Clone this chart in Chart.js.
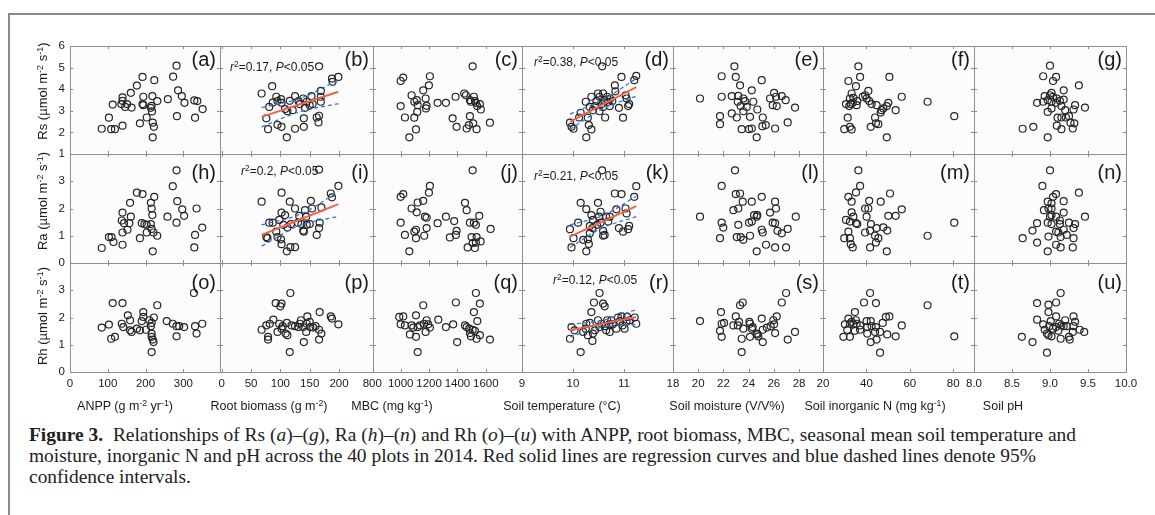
<!DOCTYPE html>
<html>
<head>
<meta charset="utf-8">
<script src="https://cdn.jsdelivr.net/npm/chart.js@4.4.1/dist/chart.umd.min.js"></script>
<style>
    body { margin: 0; width: 1155px; height: 515px; background: #fff; position: relative; overflow: hidden;
           font-family: "Liberation Sans", Arial, sans-serif; color: #1a1a1a; }
    #frame { position: absolute; left: 8px; top: 13px; width: 1170px; height: 520px;
             border-left: 2px solid #8a8a8a; border-top: 2px solid #8a8a8a; }
    canvas { position: absolute; }
    .lbl { position: absolute; font-size: 20px; line-height: 20px; white-space: nowrap; transform: translateX(-100%); }
    .ann { position: absolute; font-size: 12px; line-height: 13px; white-space: nowrap; }
    .xt { position: absolute; font-size: 12.5px; line-height: 14px; white-space: nowrap; transform: translateX(-50%); }
    .yt { position: absolute; font-size: 13px; line-height: 14px; white-space: nowrap; transform: translate(-50%, -50%) rotate(-90deg); }
    sup { font-size: 70%; line-height: 0; vertical-align: 0.45em; }
    #cap { position: absolute; left: 29px; top: 424px; font-family: "Liberation Serif", "Times New Roman", serif;
           font-size: 17.5px; line-height: 21px; color: #222; white-space: nowrap; }
</style>
</head>
<body>
<div id="frame"></div>
<div id="cap">
    <span id="capLine1"><b>Figure 3.</b>&nbsp; Relationships of Rs (<i>a</i>)–(<i>g</i>), Ra (<i>h</i>)–(<i>n</i>) and Rh (<i>o</i>)–(<i>u</i>) with ANPP, root biomass, MBC, seasonal mean soil temperature and</span><br>
    moisture, inorganic N and pH across the 40 plots in 2014. Red solid lines are regression curves and blue dashed lines denote 95%<br>
    confidence intervals.
</div>
<script>
// axis setup per column (x) and per row (y)
const xTitles = ['ANPP (g m<sup>-2</sup> yr<sup>-1</sup>)', 'Root biomass (g m<sup>-2</sup>)', 'MBC (mg kg<sup>-1</sup>)',
    'Soil temperature (°C)', 'Soil moisture (V/V%)', 'Soil inorganic N (mg kg<sup>-1</sup>)', 'Soil pH'];
const yTitles = ['Rs (µmol m<sup>-2</sup> s<sup>-1</sup>)', 'Ra (µmol m<sup>-2</sup> s<sup>-1</sup>)', 'Rh (µmol m<sup>-2</sup> s<sup>-1</sup>)'];
const xMin = [0, -3, 805, 9, 18, 20, 8];
const xMax = [397, 258, 1855, 11.96, 29.9, 89.6, 10];
const xTicks = [[0, 100, 200, 300], [0, 50, 100, 150, 200], [800, 1000, 1200, 1400, 1600], [9, 10, 11],
    [18, 20, 22, 24, 26, 28], [20, 40, 60, 80], [8, 8.5, 9, 9.5, 10]];
const yMin = [1, 0, 0];
const yMax = [6, 4, 4];
const yTicks = [[1, 2, 3, 4, 5, 6], [0, 1, 2, 3], [0, 1, 2, 3]];
const panelLetters = 'abcdefghijklmnopqrstu';

// Rs (a)-(g)
const rsAnpp = [[84,2.17],[103,2.68],[109,2.15],[119,2.15],[113,3.29],[139,2.31],[139,3.62],[139,3.46],[136,3.31],[146,3.18],[161,3.83],[151,3.31],[163,3.15],[177,4.17],[192,4.57],[185,2.42],[194,3.65],[192,3.31],[203,2.69],[214,3.14],[218,3.68],[216,3.23],[217,2.97],[219,2.45],[222,2.26],[223,4.42],[231,3.45],[219,1.77],[259,3.54],[273,4.58],[282,5.09],[286,3.95],[296,3.68],[283,2.75],[303,3.37],[329,3.48],[337,3.45],[331,2.68],[351,3.08],[194,3.26]];
const rsRoot = [[68,3.8],[76,2.65],[79,2.15],[81,3.18],[87,3.38],[86,4.14],[93,3.65],[95,3.45],[101,3.54],[102,3.37],[95,2.35],[102,2.26],[108,3.08],[112,2.98],[111,1.77],[116,3.46],[125,3.68],[125,2.17],[131,3.45],[133,3.31],[139,3.57],[140,2.65],[140,2.26],[142,3.14],[145,3.42],[150,3.26],[153,3.68],[155,3.31],[162,2.69],[165,2.46],[166,2.77],[166,5.06],[169,3.65],[169,3.42],[188,4.49],[189,4.34],[199,4.57],[169,3.92],[121,3.03]];
const rsMbc = [[1000,4.38],[1018,4.54],[1000,3.22],[1030,2.69],[1061,1.77],[1077,3.72],[1096,2.68],[1108,2.14],[1113,3.49],[1117,2.95],[1120,3.26],[1159,3.95],[1176,3.57],[1178,3.11],[1183,3.23],[1199,4.18],[1206,4.6],[1260,3.37],[1319,3.37],[1366,2.65],[1387,3.65],[1394,2.26],[1448,3.8],[1460,3.72],[1465,2.18],[1481,2.34],[1488,2.75],[1495,3.42],[1507,5.06],[1516,3.65],[1523,3.45],[1511,2.42],[1530,3.37],[1535,2.15],[1539,3.22],[1558,3.31],[1565,3.06],[1629,2.45],[1096,3.42],[1488,3.49]];
const rsTemp = [[9.94,2.45],[9.97,2.26],[10.01,2.17],[10.15,2.91],[10.26,1.77],[10.25,3.42],[10.29,2.68],[10.31,2.34],[10.36,2.14],[10.36,3.65],[10.39,3.03],[10.43,3.22],[10.46,3.45],[10.49,3.8],[10.52,3.65],[10.56,3.31],[10.57,5.06],[10.59,3.18],[10.61,3.49],[10.63,2.69],[10.67,3.65],[10.69,3.42],[10.73,3.57],[10.77,3.45],[10.82,4.18],[10.83,3.9],[10.9,3.14],[10.95,4.57],[10.98,2.68],[11.03,3.72],[11.05,3.57],[11.08,3.22],[11.1,3.31],[11.2,4.42],[11.24,4.62],[10.52,2.98],[10.72,3.22],[10.33,3.18],[10.12,2.69],[10.59,3.8]];
const rsMoist = [[20.14,3.57],[21.73,2.38],[21.73,2.75],[21.86,3.65],[21.86,4.6],[22.66,3.68],[22.87,5.06],[22.98,4.57],[23.06,2.69],[23.14,3.42],[23.18,3.69],[23.32,4.18],[23.37,3.22],[23.45,2.15],[23.58,2.98],[23.71,3.45],[24.03,2.15],[24.11,2.72],[24.25,3.95],[24.37,3.42],[24.69,3.06],[25.04,4.42],[25.12,2.69],[25.09,2.29],[25.36,2.34],[24.25,2.18],[24.64,1.77],[26.1,2.18],[26.02,3.83],[25.7,3.57],[26.17,3.65],[25.91,3.26],[26.23,3.22],[26.63,3.68],[26.94,3.49],[27.1,2.46],[27.68,3.15],[23.85,3.18],[23.58,3.57],[22.66,2.88]];
const rsN = [[36.3,5.06],[31.7,4.38],[37.1,4.57],[35.2,4.14],[33.2,3.8],[32.4,3.57],[34,3.6],[30.6,3.31],[32.1,3.22],[33.7,3.37],[35.5,3.26],[31.4,2.68],[29.8,2.15],[32.4,2.26],[33.2,2.14],[39.4,3.72],[40.9,3.92],[40.1,3.57],[41.3,3.45],[42.4,3.31],[44.7,3.26],[44,2.69],[44.4,2.42],[45.5,2.38],[42,2.26],[47,3.03],[47.8,3.11],[49.4,3.22],[50.1,3.37],[50.6,4.57],[49.4,1.77],[53.5,3.03],[56.3,3.65],[68.2,3.42],[80.5,2.75],[35.8,3.45],[38.3,3.65],[46.6,2.92],[32.8,3.31]];
const rsPh = [[9.0,5.09],[8.91,4.6],[9.08,4.57],[9.04,4.38],[9.38,4.18],[9.18,3.95],[9.02,3.83],[9.0,3.72],[8.93,3.68],[8.97,3.49],[9.04,3.65],[9.09,3.57],[9.13,3.46],[9.18,3.52],[8.83,3.37],[8.91,3.42],[9.02,3.42],[9.08,3.37],[9.15,3.22],[9.02,3.11],[8.97,2.95],[9.33,3.26],[9.31,3.06],[9.46,3.15],[9.1,2.68],[9.15,2.69],[9.25,2.75],[9.21,2.69],[9.27,2.45],[9.32,2.42],[9.3,2.18],[9.09,2.31],[9.15,2.15],[8.64,2.17],[8.78,2.26],[8.97,1.77],[9.2,3.03]];

// Ra (h)-(n)
const raAnpp = [[84,0.55],[103,0.95],[110,0.95],[115,0.77],[139,0.67],[137,1.56],[139,1.85],[143,1.46],[139,1.12],[152,1.22],[161,1.7],[159,2.21],[157,1.46],[177,2.58],[185,0.91],[192,2.53],[190,1.46],[197,1.43],[203,1.12],[214,1.43],[214,2.21],[216,2.0],[218,1.76],[223,2.43],[216,1.25],[221,1.12],[219,0.43],[231,1.0],[258,1.7],[272,2.82],[282,3.4],[284,2.27],[282,1.48],[297,1.97],[302,1.73],[335,2.0],[331,1.03],[329,0.57],[350,1.3],[203,1.4]];
const raRoot = [[68,2.25],[76,0.95],[78,0.91],[81,1.48],[87,1.48],[93,1.15],[95,0.95],[98,1.58],[102,2.58],[102,1.85],[101,0.87],[102,0.69],[108,1.76],[111,0.43],[112,1.3],[116,2.25],[117,0.58],[125,0.58],[125,2.0],[132,1.73],[136,1.43],[139,1.19],[140,1.15],[142,1.94],[144,1.7],[145,1.4],[150,1.43],[152,2.28],[154,2.0],[162,1.03],[166,3.43],[166,1.28],[167,1.48],[170,2.04],[186,2.55],[188,2.41],[199,2.83],[118,1.43],[130,1.48],[105,1.4]];
const raMbc = [[1000,2.43],[1018,2.53],[1000,1.48],[1030,1.03],[1061,0.43],[1077,2.0],[1096,1.15],[1108,0.91],[1113,1.86],[1120,2.22],[1108,1.22],[1159,2.28],[1171,1.7],[1183,1.66],[1183,1.28],[1166,1.0],[1199,2.58],[1206,2.83],[1260,1.46],[1319,1.7],[1347,0.94],[1377,1.54],[1394,1.18],[1389,1.03],[1453,2.21],[1465,1.94],[1488,1.48],[1500,0.95],[1507,3.4],[1516,1.48],[1530,1.4],[1535,0.95],[1530,0.75],[1554,1.73],[1563,0.79],[1507,0.73],[1472,0.57],[1523,0.55],[1634,1.25]];
const raTemp = [[9.94,1.24],[9.97,0.57],[10.01,0.91],[10.1,1.48],[10.15,2.21],[10.26,1.98],[10.29,0.87],[10.31,0.7],[10.26,0.43],[10.33,1.36],[10.38,1.28],[10.36,1.76],[10.39,1.58],[10.49,2.21],[10.51,1.7],[10.54,1.48],[10.54,1.88],[10.57,3.4],[10.59,1.18],[10.59,1.0],[10.62,1.03],[10.65,1.7],[10.69,1.52],[10.72,1.7],[10.82,2.55],[10.85,1.97],[10.9,1.28],[10.95,2.53],[10.98,1.15],[11.03,2.0],[11.05,1.82],[11.08,1.24],[11.1,1.36],[11.2,2.43],[11.24,2.82],[10.47,1.4],[10.33,1.09],[10.2,0.85]];
const raMoist = [[20.14,1.7],[21.73,0.91],[21.86,1.48],[21.99,1.3],[21.86,2.83],[22.92,3.4],[22.98,2.53],[23.32,2.55],[23.53,2.25],[22.79,1.94],[23.18,2.0],[23.18,1.4],[23.06,0.95],[23.37,0.95],[23.58,0.85],[24.03,1.48],[24.11,1.0],[24.25,2.25],[24.64,1.7],[24.64,0.43],[25.04,2.43],[24.43,1.76],[24.69,1.76],[24.25,1.52],[25.04,1.22],[25.12,1.12],[25.38,0.67],[26.1,2.25],[26.17,2.0],[25.7,1.85],[25.91,1.48],[26.1,1.46],[26.29,1.18],[26.63,1.09],[27.1,1.25],[26.1,0.57],[26.97,0.57],[27.74,1.7]];
const raN = [[36.3,3.4],[37.1,2.83],[35.2,2.59],[31.7,2.43],[33.2,2.25],[50.9,2.55],[46.6,2.25],[41.3,2.28],[39.4,2.0],[40.9,2.0],[33.2,1.86],[34.0,1.7],[30.6,1.58],[32.4,1.52],[35.2,1.46],[35.8,1.43],[40.1,1.7],[42.1,1.43],[41.7,1.19],[39.4,1.12],[44.7,1.28],[47.8,1.31],[49.6,1.19],[44,1.0],[45.5,0.91],[44.4,0.75],[41.7,0.57],[49.4,0.43],[31.7,1.15],[29.8,0.91],[32.4,0.91],[32.8,0.69],[33.7,0.57],[50.1,1.73],[53.5,1.73],[56.3,1.97],[68.2,1.0],[80.5,1.48]];
const raPh = [[9.0,3.4],[8.9,2.83],[9.08,2.53],[9.04,2.43],[9.38,2.58],[8.97,2.25],[9.18,2.27],[9.02,2.19],[8.98,2.0],[8.92,1.94],[9.02,2.0],[9.18,1.85],[9.02,1.76],[9.0,1.7],[9.08,1.7],[9.13,1.56],[9.46,1.7],[8.83,1.46],[8.97,1.48],[9.02,1.43],[9.13,1.43],[9.25,1.48],[9.33,1.43],[9.31,1.28],[8.77,1.19],[9.08,1.15],[9.11,1.12],[9.22,1.03],[9.14,0.95],[8.98,0.97],[9.31,0.91],[8.64,0.91],[8.83,0.75],[9.08,0.67],[9.14,0.57],[9.3,0.57],[8.97,0.43],[9.18,1.22]];

// Rh (o)-(u)
const rhAnpp = [[84,1.63],[103,1.74],[109,1.22],[119,1.29],[113,2.53],[139,2.53],[137,1.77],[141,1.65],[153,2.08],[159,1.9],[159,1.53],[163,1.47],[177,1.59],[185,1.53],[190,1.87],[194,2.02],[194,2.2],[201,1.55],[214,1.68],[216,1.8],[222,2.0],[216,1.41],[216,1.29],[219,1.19],[221,1.1],[216,0.73],[231,2.45],[256,1.87],[272,1.77],[282,1.68],[282,1.31],[289,1.68],[302,1.65],[328,2.9],[331,1.68],[335,1.41],[350,1.77],[210,1.9]];
const rhRoot = [[68,1.55],[76,1.71],[79,1.29],[79,1.19],[82,1.77],[88,1.92],[92,2.53],[102,2.51],[100,2.41],[95,1.47],[98,1.77],[102,1.59],[104,1.68],[111,1.8],[112,1.35],[109,1.41],[117,2.9],[116,0.73],[125,1.68],[131,1.65],[133,1.77],[135,1.9],[140,1.1],[139,1.65],[144,1.47],[145,1.77],[146,2.04],[150,1.84],[151,1.65],[160,1.68],[166,1.19],[167,2.2],[170,1.41],[166,1.55],[186,2.04],[188,1.96],[199,1.75],[119,1.71],[156,1.63]];
const rhMbc = [[990,2.02],[1018,2.04],[1000,1.75],[1030,1.71],[1065,1.38],[1077,1.71],[1089,1.63],[1108,2.08],[1108,1.29],[1120,0.73],[1120,1.65],[1159,2.45],[1164,1.77],[1183,1.9],[1194,1.75],[1176,1.47],[1206,1.63],[1265,1.92],[1319,1.65],[1370,1.75],[1389,2.55],[1398,1.1],[1453,1.71],[1465,1.65],[1488,1.43],[1495,1.31],[1507,1.55],[1516,2.2],[1530,2.9],[1540,1.87],[1558,2.51],[1535,1.22],[1558,1.35],[1629,1.19],[1483,1.59],[1523,1.51],[1136,1.71]];
const rhTemp = [[9.94,1.22],[9.97,1.65],[10.03,1.53],[10.15,0.73],[10.25,1.59],[10.26,1.77],[10.29,1.35],[10.33,1.8],[10.38,1.14],[10.39,1.41],[10.41,2.55],[10.36,2.2],[10.49,1.9],[10.52,2.9],[10.52,1.65],[10.56,1.77],[10.59,2.51],[10.62,2.41],[10.62,1.68],[10.67,1.9],[10.71,1.75],[10.72,1.47],[10.75,1.9],[10.78,1.75],[10.85,1.59],[10.88,2.0],[10.92,1.87],[10.95,2.04],[10.97,1.71],[11.01,1.59],[11.05,1.84],[11.06,2.02],[11.11,1.9],[11.21,2.0],[11.24,1.77],[10.2,1.47],[10.43,1.53],[10.65,1.53]];
const rhMoist = [[20.14,1.87],[21.73,1.51],[21.81,2.2],[21.86,1.29],[21.86,1.77],[22.05,1.8],[22.79,1.71],[22.98,2.04],[23.14,1.71],[23.24,1.84],[23.32,2.45],[23.53,2.55],[23.45,1.22],[23.45,0.73],[23.58,1.59],[24.06,1.84],[24.11,1.29],[24.64,1.41],[24.11,1.77],[24.32,1.65],[24.69,1.38],[24.77,1.31],[25.04,1.96],[25.12,1.55],[25.12,1.1],[25.44,1.63],[25.75,1.68],[25.96,1.9],[26.02,1.75],[26.1,1.43],[26.23,2.04],[26.63,2.55],[26.97,2.9],[27.1,1.19],[27.68,1.47],[24.25,1.59]];
const rhN = [[41.7,2.9],[38.9,2.55],[44.4,2.53],[34.7,2.2],[31.7,1.96],[33.2,1.84],[35.2,1.9],[30.1,1.75],[32.4,1.77],[34,1.75],[35.5,1.77],[37.1,1.71],[40.1,1.87],[42,1.87],[42.4,1.68],[44.4,1.65],[40.4,1.65],[31.2,1.55],[32.4,1.29],[29.4,1.29],[34.7,1.51],[40.4,1.41],[42,1.1],[44.7,1.19],[46.3,1.47],[47.5,1.8],[49,2.02],[50.6,2.04],[49.6,1.38],[53.5,1.31],[56.3,1.71],[46.3,0.71],[68.2,2.45],[80.5,1.31],[37.1,1.55],[44,1.47]];
const rhPh = [[9.14,2.9],[8.83,2.53],[8.98,2.47],[9.08,2.55],[8.98,2.2],[8.83,1.92],[8.91,1.75],[9.01,1.87],[9.08,2.04],[9.12,1.77],[8.99,1.68],[9.04,1.59],[9.08,1.65],[9.15,1.71],[9.22,1.68],[9.31,2.04],[9.33,1.84],[9.31,1.68],[9.39,1.55],[9.45,1.47],[9.3,1.47],[8.96,1.41],[8.98,1.35],[9.02,1.31],[9.14,1.22],[9.26,1.19],[9.25,1.29],[8.63,1.29],[8.77,1.1],[8.96,0.71],[9.18,1.68],[8.93,1.55],[9.11,1.51],[9.2,1.9]];

// regression lines and 95% CI (panels b, d, i, k, r)
const fitB = [[68,2.72],[199,3.88]];
const ciUpB = [[68,3.15],[133,3.57],[199,4.42]];
const ciLoB = [[68,2.26],[133,2.95],[199,3.33]];
const fitD = [[9.94,2.49],[11.24,4.1]];
const ciUpD = [[9.94,2.85],[10.59,3.52],[11.24,4.49]];
const ciLoD = [[9.94,2.14],[10.59,3.1],[11.24,3.68]];
const fitI = [[68,1.03],[199,2.16]];
const ciUpI = [[68,1.4],[133,1.78],[199,2.62]];
const ciLoI = [[68,0.62],[133,1.38],[199,1.71]];
const fitK = [[9.94,0.97],[11.24,2.09]];
const ciUpK = [[9.94,1.4],[10.59,1.75],[11.24,2.45]];
const ciLoK = [[9.94,0.57],[10.59,1.3],[11.24,1.7]];
const fitR = [[9.94,1.53],[11.24,2.02]];
const ciUpR = [[9.94,1.75],[10.59,1.9],[11.24,2.29]];
const ciLoR = [[9.94,1.29],[10.59,1.65],[11.24,1.75]];
const r2Values = ['0.17', '0.38', '0.2', '0.21', '0.12'];

const panelPoints = [
    [rsAnpp, rsRoot, rsMbc, rsTemp, rsMoist, rsN, rsPh],
    [raAnpp, raRoot, raMbc, raTemp, raMoist, raN, raPh],
    [rhAnpp, rhRoot, rhMbc, rhTemp, rhMoist, rhN, rhPh]
];
const fitPanels = [1, 3, 8, 10, 17];
const fitLines = [fitB, fitD, fitI, fitK, fitR];
const ciUpper = [ciUpB, ciUpD, ciUpI, ciUpK, ciUpR];
const ciLower = [ciLoB, ciLoD, ciLoI, ciLoK, ciLoR];

// page layout
const colEdges = [70, 220, 373, 522, 673, 823, 974, 1126];
const rowEdges = [46, 154, 263, 372];
const ML = 40, MR = 20, MT = 10, MB = 26;
const letterTop = [3, 8, 9];
const annPos = [[230, 61], [534, 56], [241, 165], [534, 170], [553, 273.5]];
const xTitleX = [125, 269, 392, 562, 727, 875, 1003];
const yTitleY = [91, 201, 316];

Chart.defaults.font.family = '"Liberation Sans", Arial, sans-serif';
Chart.defaults.color = '#1a1a1a';

const panelFrame = {
    id: 'panelFrame',
    beforeDraw(chart) {
        const {ctx, chartArea: a} = chart;
        ctx.save();
        ctx.fillStyle = '#fcfcfd';
        ctx.fillRect(a.left, a.top, a.right - a.left, a.bottom - a.top);
        ctx.restore();
    },
    afterDraw(chart) {
        const {ctx, chartArea: a, scales} = chart;
        ctx.save();
        ctx.strokeStyle = '#8e8e8e';
        ctx.lineWidth = 1;
        ctx.strokeRect(Math.round(a.left) + 0.5, Math.round(a.top) + 0.5, Math.round(a.right - a.left), Math.round(a.bottom - a.top));
        // small inward tick marks on every side
        ctx.beginPath();
        scales.x.ticks.forEach(t => {
            const px = Math.round(scales.x.getPixelForValue(t.value)) + 0.5;
            if (px <= a.left + 1 || px >= a.right - 1) return;
            ctx.moveTo(px, a.bottom); ctx.lineTo(px, a.bottom - 3);
            ctx.moveTo(px, a.top); ctx.lineTo(px, a.top + 3);
        });
        scales.y.ticks.forEach(t => {
            const py = Math.round(scales.y.getPixelForValue(t.value)) + 0.5;
            if (py <= a.top + 1 || py >= a.bottom - 1) return;
            ctx.moveTo(a.left, py); ctx.lineTo(a.left + 3, py);
            ctx.moveTo(a.right, py); ctx.lineTo(a.right - 3, py);
        });
        ctx.stroke();
        ctx.restore();
    }
};

function lineSet(points, color, width, dash) {
    return {
        data: points.map(p => ({x: p[0], y: p[1]})),
        showLine: true,
        pointRadius: 0,
        borderColor: color,
        borderWidth: width,
        borderDash: dash,
        tension: 0.35,
        fill: false
    };
}

function makePanel(r, c) {
    const w = colEdges[c + 1] - colEdges[c];
    const h = rowEdges[r + 1] - rowEdges[r];
    const cv = document.createElement('canvas');
    cv.width = w + ML + MR;
    cv.height = h + MT + MB;
    cv.style.left = (colEdges[c] - ML) + 'px';
    cv.style.top = (rowEdges[r] - MT) + 'px';
    document.body.appendChild(cv);

    const datasets = [];
    const k = fitPanels.indexOf(r * 7 + c);
    if (k >= 0) {
        datasets.push(lineSet(ciUpper[k], '#3a74d4', 1.3, [4, 3]));
        datasets.push(lineSet(ciLower[k], '#3a74d4', 1.3, [4, 3]));
        datasets.push(lineSet(fitLines[k], '#f0654c', 2, []));
    }
    datasets.push({
        data: panelPoints[r][c].map(p => ({x: p[0], y: p[1]})),
        pointRadius: 3.5,
        pointBorderWidth: 1.2,
        pointBorderColor: '#262626',
        pointBackgroundColor: 'rgba(255,255,255,0)'
    });

    new Chart(cv, {
        type: 'scatter',
        data: {datasets: datasets},
        options: {
            responsive: false,
            animation: false,
            events: [],
            layout: {padding: {left: 0, right: MR, top: MT, bottom: 0}},
            plugins: {legend: {display: false}, tooltip: {enabled: false}},
            scales: {
                x: {
                    type: 'linear', min: xMin[c], max: xMax[c],
                    grid: {display: false, drawTicks: false},
                    border: {display: false},
                    ticks: {
                        display: r === 2, autoSkip: false, maxRotation: 0, padding: 5,
                        font: {size: 11.5}, color: '#1a1a1a',
                        callback: v => c === 6 ? v.toFixed(1) : String(v)
                    },
                    afterBuildTicks: s => { s.ticks = xTicks[c].map(v => ({value: v})); },
                    afterFit: s => { s.height = MB; s.paddingLeft = 0; s.paddingRight = 0; }
                },
                y: {
                    type: 'linear', min: yMin[r], max: yMax[r],
                    grid: {display: false, drawTicks: false},
                    border: {display: false},
                    ticks: {display: c === 0, autoSkip: false, padding: 5, font: {size: 11.5}, color: '#1a1a1a'},
                    afterBuildTicks: s => { s.ticks = yTicks[r].map(v => ({value: v})); },
                    afterFit: s => { s.width = ML; s.paddingTop = 0; s.paddingBottom = 0; }
                }
            }
        },
        plugins: [panelFrame]
    });
}

function addDiv(cls, html, left, top) {
    const d = document.createElement('div');
    d.className = cls;
    d.innerHTML = html;
    d.style.left = left + 'px';
    d.style.top = top + 'px';
    document.body.appendChild(d);
    return d;
}

for (let r = 0; r < 3; r++) {
    for (let c = 0; c < 7; c++) {
        makePanel(r, c);
    }
}

// panel letters, r2 notes, axis titles
for (let r = 0; r < 3; r++) {
    for (let c = 0; c < 7; c++) {
        addDiv('lbl', '(' + panelLetters[r * 7 + c] + ')', colEdges[c + 1] - 4, rowEdges[r] + letterTop[r]);
    }
}
fitPanels.forEach((p, i) => {
    addDiv('ann', '<i>r</i><sup>2</sup>=' + r2Values[i] + ', <i>P</i>&lt;0.05', annPos[i][0], annPos[i][1]);
});
xTitles.forEach((t, c) => addDiv('xt', t, xTitleX[c], 398.5));
yTitles.forEach((t, r) => addDiv('yt', t, 43, yTitleY[r]));

// fit the caption width to the figure
const cap = document.getElementById('cap');
const line1 = document.getElementById('capLine1');
const fs = 17.5 * 1048 / line1.offsetWidth;
cap.style.fontSize = fs.toFixed(2) + 'px';
</script>
</body>
</html>
